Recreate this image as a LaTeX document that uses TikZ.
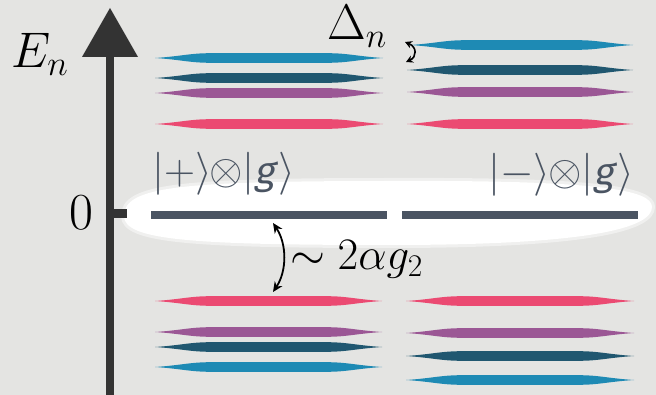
\RequirePackage{fix-cm}
\documentclass[tikz,border=0pt]{standalone}
\usepackage{amsmath}
\usepackage{fontspec}
\newfontfamily\ketg{Fira Sans}[FakeSlant=0.2,Scale=0.9]
\usetikzlibrary{arrows.meta}
\definecolor{bg}{HTML}{E4E4E2}
\definecolor{axisc}{HTML}{333333}
\definecolor{slate}{HTML}{4A5462}
\definecolor{lblue}{HTML}{1E8AB4}
\definecolor{lteal}{HTML}{205770}
\definecolor{lpurple}{HTML}{9B5795}
\definecolor{lpink}{HTML}{EB4A72}
\newcommand\enlevel[4]{%
  \fill[#4] (#1,#3) .. controls (#1+25,#3-1.6) and (#1+35,#3-4.8) .. (#1+55,#3-4.8)
    -- (#2-55,#3-4.8) .. controls (#2-35,#3-4.8) and (#2-25,#3-1.6) .. (#2,#3)
    .. controls (#2-25,#3+1.6) and (#2-35,#3+4.8) .. (#2-55,#3+4.8)
    -- (#1+55,#3+4.8) .. controls (#1+35,#3+4.8) and (#1+25,#3+1.6) .. (#1,#3) -- cycle;}
\newcommand\ketpair[1]{$\lvert#1\rangle\kern-0.05em{\otimes}\kern-0.02em\lvert\mbox{\ketg g\kern0.1em}\rangle$}
\tikzset{
  biglabel/.style={inner sep=0pt, font=\fontsize{50}{60}\selectfont},
  ketlabel/.style={inner sep=0pt, text=slate, font=\fontsize{43}{50}\selectfont},
  gaparrow/.style={line width=1.8pt, {Stealth[length=10pt,width=9pt]}-{Stealth[length=10pt,width=9pt]}},
  smallarrow/.style={line width=1.6pt, {Stealth[length=7pt,width=7.5pt]}-{Stealth[length=7pt,width=7.5pt]}}
}
\begin{document}
\begin{tikzpicture}[x=1pt,y=-1pt]
\fill[bg] (0,0) rectangle (656,395);
\useasboundingbox (0,0) rectangle (656,395);
% white highlight blob
\path[draw=white, draw opacity=0.45, line width=6pt, fill=white]
  (124,216) .. controls (124,187) and (177,181) .. (390,181)
  .. controls (600,180) and (652,190) .. (652,207)
  .. controls (652,228) and (590,245) .. (390,245)
  .. controls (190,245) and (124,240) .. (124,216) -- cycle;
% axis
\fill[axisc] (106,56) rectangle (114,395);
\fill[axisc] (82,57) -- (138,57) -- (110,8) -- cycle;
\fill[axisc] (110,209) rectangle (127,218);
% labels
\node[biglabel, anchor=base west] (En) at (11,68) {$E_n$};
\node[biglabel, font=\fontsize{52}{60}\selectfont, anchor=base] (zero) at (81,230) {$0$};
\node[biglabel, anchor=base west] (delta) at (327,40) {$\Delta_n$};
% upper levels left
\enlevel{155}{383}{58}{lblue}
\enlevel{155}{383}{78}{lteal}
\enlevel{155}{383}{93}{lpurple}
\enlevel{155}{383}{124}{lpink}
% upper levels right
\enlevel{410}{633}{45}{lblue}
\enlevel{407}{633}{70}{lteal}
\enlevel{407}{633}{92}{lpurple}
\enlevel{407}{633}{124}{lpink}
% lower levels left
\enlevel{155}{382}{301}{lpink}
\enlevel{155}{382}{332}{lpurple}
\enlevel{155}{382}{347}{lteal}
\enlevel{155}{382}{367}{lblue}
% lower levels right
\enlevel{406}{634}{301}{lpink}
\enlevel{406}{634}{333}{lpurple}
\enlevel{406}{634}{356}{lteal}
\enlevel{406}{634}{380}{lblue}
% zero levels
\fill[slate] (151,211) rectangle (387,219);
\fill[slate] (402,211) rectangle (638,219);
\node[ketlabel, anchor=base west] (ketp) at (152,185) {\ketpair{+}};
\node[ketlabel, anchor=base east] (ketm) at (634,186) {\ketpair{-}};
% gap arrow
\coordinate (gtop) at (273,223);
\coordinate (gbot) at (273,292);
\draw[gaparrow] (gtop) .. controls (287,244) and (287,271) .. (gbot);
\node[biglabel, font=\fontsize{45}{54}\selectfont, anchor=base west] (gap) at (290,270) {$\sim 2\alpha g_2$};
% small Delta arrow
\coordinate (dtop) at (405,42);
\coordinate (dbot) at (406,62);
\draw[smallarrow] (dtop) .. controls (417,47) and (417,57) .. (dbot);
\end{tikzpicture}
\end{document}
